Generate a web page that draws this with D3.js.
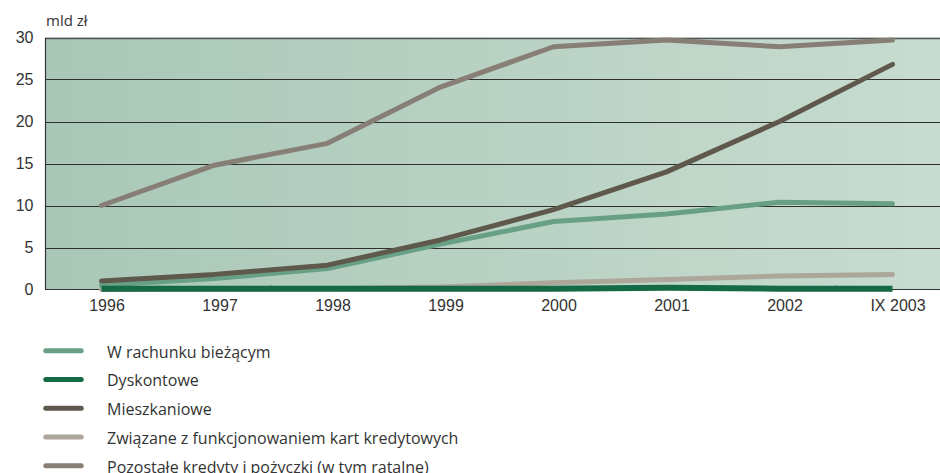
<!DOCTYPE html>
<html>
<head>
<meta charset="utf-8">
<script src="https://cdn.jsdelivr.net/npm/d3@7"></script>
<style>
  html, body { margin: 0; padding: 0; background: #fff; }
  svg { display: block; font-family: "Open Sans", "Noto Sans", sans-serif; }
</style>
</head>
<body>
<svg id="chart" width="940" height="473"></svg>
<script>
// Kategorie osi X
const categories = ["1996", "1997", "1998", "1999", "2000", "2001", "2002", "IX 2003"];

// Wartości kredytów (mld zł)
const wRachunku   = [0.5, 1.3, 2.5, 5.4, 8.1, 9.0, 10.4, 10.2];
const dyskontowe  = [0.1, 0.1, 0.1, 0.1, 0.1, 0.2, 0.1, 0.1];
const mieszkaniowe = [1.0, 1.8, 2.9, 5.9, 9.5, 14.0, 20.0, 26.8];
const karty       = [0.0, 0.05, 0.1, 0.3, 0.8, 1.2, 1.6, 1.8];
const pozostale   = [10.0, 14.8, 17.4, 24.1, 28.9, 29.7, 28.9, 29.7];

const yTicks = [0, 5, 10, 15, 20, 25, 30];

const seriesNames = [
  "W rachunku bieżącym",
  "Dyskontowe",
  "Mieszkaniowe",
  "Związane z funkcjonowaniem kart kredytowych",
  "Pozostałe kredyty i pożyczki (w tym ratalne)"
];
const seriesColors = ["#67a085", "#136a44", "#5f584c", "#aca69b", "#877f75"];
const seriesValues = [wRachunku, dyskontowe, mieszkaniowe, karty, pozostale];

const series = seriesNames.map((name, i) => ({ name, color: seriesColors[i], values: seriesValues[i] }));

const svg = d3.select("#chart");
const mLeft = 45, mTop = 37.5, mBottom = 289.5, mRight = 949;

const xBand = d3.scaleBand().domain(categories).range([mLeft, mRight]).paddingInner(0).paddingOuter(0);
const x = d => xBand(d) + xBand.bandwidth() / 2;
const y = d3.scaleLinear().domain([0, 30]).range([mBottom, mTop]);

// Tło z gradientem
const defs = svg.append("defs");
const grad = defs.append("linearGradient").attr("id", "bg").attr("x1", "0").attr("x2", "1").attr("y1", "0").attr("y2", "0");
grad.append("stop").attr("offset", "0%").attr("stop-color", "#a9c7b7");
grad.append("stop").attr("offset", "100%").attr("stop-color", "#c8dcd0");
defs.append("clipPath").attr("id", "clip").append("rect")
  .attr("x", mLeft).attr("y", 0).attr("width", 940 - mLeft).attr("height", 300);

svg.append("rect").attr("x", mLeft).attr("y", mTop).attr("width", mRight - mLeft).attr("height", mBottom - mTop)
  .attr("fill", "url(#bg)");

// Linie siatki
svg.append("g").selectAll("line").data(yTicks.filter(t => t > 0)).join("line")
  .attr("x1", mLeft).attr("x2", 940)
  .attr("y1", d => Math.round(y(d)) + 0.5).attr("y2", d => Math.round(y(d)) + 0.5)
  .attr("stroke", d => d === 30 ? "#555" : "#2f2f2f").attr("stroke-width", d => d === 30 ? 1.5 : 1);

// Oś Y
const yAxis = svg.append("g").attr("transform", `translate(${mLeft},0)`)
  .call(d3.axisLeft(y).tickValues(yTicks).tickSize(0).tickPadding(11.5));
yAxis.select(".domain").attr("stroke", "#333").attr("stroke-width", 1.2);
yAxis.selectAll("text").attr("font-size", 16).attr("fill", "#333");

// Oś X
const xAxis = svg.append("g").attr("transform", `translate(0,${mBottom})`)
  .call(d3.axisBottom(xBand).tickSize(0));
xAxis.select(".domain").remove();
xAxis.selectAll("text").attr("font-size", 16).attr("fill", "#333")
  .attr("dy", null).attr("y", 21.2).attr("x", 5.5);
svg.append("line").attr("x1", mLeft).attr("x2", 940).attr("y1", mBottom).attr("y2", mBottom)
  .attr("stroke", "#333").attr("stroke-width", 1.2);
// Znaczniki na granicach kategorii
svg.append("g").selectAll("line").data(categories.slice(1)).join("line")
  .attr("x1", d => xBand(d)).attr("x2", d => xBand(d))
  .attr("y1", mBottom).attr("y2", mBottom - 4)
  .attr("stroke", "#333").attr("stroke-width", 1);

svg.append("text").attr("x", mLeft + 1).attr("y", 26).attr("font-size", 15).attr("fill", "#333").text("mld zł");

// Linie serii
const line = d3.line().x((d, i) => x(categories[i])).y(d => y(d)).curve(d3.curveLinear);
const drawOrder = [3, 0, 2, 4, 1];
svg.append("g").attr("clip-path", "url(#clip)").selectAll("path").data(drawOrder.map(i => series[i])).join("path")
  .attr("d", d => line(d.values))
  .attr("fill", "none")
  .attr("stroke", d => d.color)
  .attr("stroke-width", d => d.name === "Dyskontowe" ? 6 : 5)
  .attr("stroke-linecap", d => d.name === "Dyskontowe" ? "butt" : "round")
  .attr("stroke-linejoin", "round");

// Legenda
const legend = svg.append("g");
const rows = legend.selectAll("g").data(series).join("g")
  .attr("transform", (d, i) => `translate(0,${350.7 + i * 28.75})`);
rows.append("line").attr("x1", 45.8).attr("x2", 81.2).attr("y1", 0).attr("y2", 0)
  .attr("stroke", d => d.color).attr("stroke-width", 5).attr("stroke-linecap", "round");
rows.append("text").attr("x", 107).attr("y", 7)
  .attr("font-size", 16).attr("fill", "#333").text(d => d.name);
</script>
</body>
</html>
